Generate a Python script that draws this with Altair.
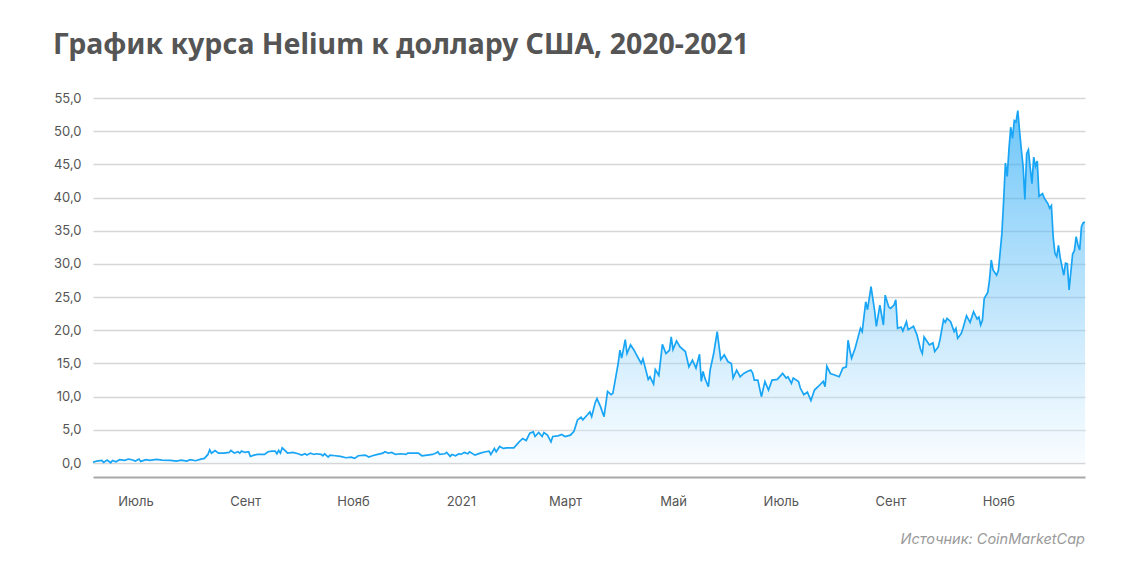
import altair as alt
import pandas as pd

TITLE = "График курса Helium к доллару США, 2020-2021"
SOURCE = "Источник: CoinMarketCap"
MONTHS = ["Янв", "Фев", "Март", "Апр", "Май", "Июнь", "Июль", "Авг", "Сент", "Окт", "Нояб", "Дек"]

dates = [
    "2020-06-07", "2020-06-09", "2020-06-12", "2020-06-13", "2020-06-15", "2020-06-17", "2020-06-18",
    "2020-06-20", "2020-06-22", "2020-06-25", "2020-06-27", "2020-06-29",
    "2020-07-01", "2020-07-03", "2020-07-04", "2020-07-07", "2020-07-09", "2020-07-13", "2020-07-16",
    "2020-07-21", "2020-07-24", "2020-07-27", "2020-07-30",
    "2020-08-01", "2020-08-04", "2020-08-07", "2020-08-09", "2020-08-11", "2020-08-12", "2020-08-13",
    "2020-08-15", "2020-08-17", "2020-08-20", "2020-08-23", "2020-08-24", "2020-08-26", "2020-08-28",
    "2020-08-29", "2020-08-30",
    "2020-09-01", "2020-09-03", "2020-09-04", "2020-09-06", "2020-09-08", "2020-09-12", "2020-09-14",
    "2020-09-16", "2020-09-18", "2020-09-19", "2020-09-20", "2020-09-21", "2020-09-22", "2020-09-24",
    "2020-09-25", "2020-09-28",
    "2020-10-01", "2020-10-03", "2020-10-05", "2020-10-06", "2020-10-08", "2020-10-10", "2020-10-11",
    "2020-10-14", "2020-10-15", "2020-10-16", "2020-10-18", "2020-10-19", "2020-10-22", "2020-10-25",
    "2020-10-28", "2020-10-31",
    "2020-11-02", "2020-11-04", "2020-11-08", "2020-11-10", "2020-11-12", "2020-11-15", "2020-11-18",
    "2020-11-19", "2020-11-21", "2020-11-23", "2020-11-25", "2020-11-28",
    "2020-12-01", "2020-12-02", "2020-12-05", "2020-12-08", "2020-12-10", "2020-12-13", "2020-12-16",
    "2020-12-18", "2020-12-19", "2020-12-20", "2020-12-23", "2020-12-24", "2020-12-26", "2020-12-27",
    "2020-12-29", "2020-12-31",
    "2021-01-01", "2021-01-03", "2021-01-05", "2021-01-06", "2021-01-09", "2021-01-12", "2021-01-15",
    "2021-01-17", "2021-01-18", "2021-01-20", "2021-01-21", "2021-01-23", "2021-01-25", "2021-01-27",
    "2021-01-31",
    "2021-02-03", "2021-02-05", "2021-02-07", "2021-02-09", "2021-02-11", "2021-02-12", "2021-02-14",
    "2021-02-16", "2021-02-17", "2021-02-19", "2021-02-21", "2021-02-22", "2021-02-25", "2021-02-27",
    "2021-03-01", "2021-03-04", "2021-03-06", "2021-03-08", "2021-03-10", "2021-03-11", "2021-03-14",
    "2021-03-15", "2021-03-16", "2021-03-18", "2021-03-19", "2021-03-21", "2021-03-23", "2021-03-25",
    "2021-03-27", "2021-03-28", "2021-03-30", "2021-03-31",
    "2021-04-01", "2021-04-02", "2021-04-04", "2021-04-05", "2021-04-07", "2021-04-09", "2021-04-10",
    "2021-04-13", "2021-04-14", "2021-04-17", "2021-04-18", "2021-04-20", "2021-04-21", "2021-04-23",
    "2021-04-25", "2021-04-27", "2021-04-29", "2021-04-30",
    "2021-05-01", "2021-05-03", "2021-05-05", "2021-05-08", "2021-05-10", "2021-05-12", "2021-05-14",
    "2021-05-16", "2021-05-17", "2021-05-18", "2021-05-19", "2021-05-21", "2021-05-22", "2021-05-24",
    "2021-05-26", "2021-05-28", "2021-05-30",
    "2021-06-01", "2021-06-03", "2021-06-04", "2021-06-06", "2021-06-08", "2021-06-10", "2021-06-12",
    "2021-06-14", "2021-06-15", "2021-06-16", "2021-06-18", "2021-06-20", "2021-06-22", "2021-06-24",
    "2021-06-26", "2021-06-29",
    "2021-07-02", "2021-07-04", "2021-07-05", "2021-07-07", "2021-07-08", "2021-07-11", "2021-07-12",
    "2021-07-14", "2021-07-16", "2021-07-18", "2021-07-20", "2021-07-22", "2021-07-25", "2021-07-26",
    "2021-07-27", "2021-07-29", "2021-07-31",
    "2021-08-03", "2021-08-05", "2021-08-07", "2021-08-08", "2021-08-09", "2021-08-10", "2021-08-12",
    "2021-08-13", "2021-08-15", "2021-08-16", "2021-08-18", "2021-08-19", "2021-08-21", "2021-08-23",
    "2021-08-24", "2021-08-26", "2021-08-28", "2021-08-29", "2021-08-31",
    "2021-09-01", "2021-09-03", "2021-09-04", "2021-09-05", "2021-09-07", "2021-09-08", "2021-09-10",
    "2021-09-11", "2021-09-14", "2021-09-16", "2021-09-18", "2021-09-19", "2021-09-20", "2021-09-23",
    "2021-09-25", "2021-09-26", "2021-09-28", "2021-09-29",
    "2021-10-01", "2021-10-02", "2021-10-03", "2021-10-05", "2021-10-07", "2021-10-08", "2021-10-09",
    "2021-10-11", "2021-10-12", "2021-10-14", "2021-10-16", "2021-10-18", "2021-10-20", "2021-10-21",
    "2021-10-22", "2021-10-23", "2021-10-24", "2021-10-26", "2021-10-27", "2021-10-28", "2021-10-29",
    "2021-10-31",
    "2021-11-01", "2021-11-02", "2021-11-03", "2021-11-04", "2021-11-05", "2021-11-06", "2021-11-07",
    "2021-11-08", "2021-11-09", "2021-11-10", "2021-11-11", "2021-11-12", "2021-11-13", "2021-11-14",
    "2021-11-15", "2021-11-16", "2021-11-17", "2021-11-18", "2021-11-19", "2021-11-20", "2021-11-21",
    "2021-11-22", "2021-11-23", "2021-11-24", "2021-11-26", "2021-11-27", "2021-11-29", "2021-11-30",
    "2021-12-01", "2021-12-02", "2021-12-03", "2021-12-04", "2021-12-05", "2021-12-06", "2021-12-08",
    "2021-12-09", "2021-12-10", "2021-12-11", "2021-12-13", "2021-12-14", "2021-12-15", "2021-12-16",
    "2021-12-17", "2021-12-18", "2021-12-19", "2021-12-20",
]

prices = [
    0.1, 0.3, 0.4, 0.1, 0.45, 0.05, 0.4,
    0.2, 0.5, 0.4, 0.6, 0.5,
    0.3, 0.6, 0.25, 0.5, 0.4, 0.55, 0.45,
    0.4, 0.3, 0.45, 0.3,
    0.5, 0.35, 0.6, 0.7, 1.3, 2.0, 1.5,
    1.9, 1.5, 1.5, 1.6, 1.9, 1.5, 1.7,
    1.5, 1.8,
    1.6, 1.7, 1.0, 1.2, 1.3, 1.3, 1.7,
    1.8, 1.8, 1.4, 1.9, 1.5, 2.3, 1.8,
    1.5, 1.6,
    1.4, 1.2, 1.4, 1.2, 1.5, 1.3, 1.4,
    1.3, 1.1, 1.4, 0.9, 1.2, 1.1, 1.0,
    0.8, 0.9,
    0.7, 1.1, 1.2, 0.9, 1.1, 1.3, 1.5,
    1.7, 1.5, 1.6, 1.3, 1.4,
    1.3, 1.5, 1.5, 1.5, 1.1, 1.2, 1.3,
    1.5, 1.7, 1.3, 1.4, 1.6, 1.0, 1.3,
    1.1, 1.4,
    1.3, 1.6, 1.4, 1.7, 1.2, 1.5, 1.7,
    1.8, 1.3, 2.2, 1.7, 2.5, 2.2, 2.3,
    2.3,
    3.2, 3.7, 3.4, 4.5, 4.7, 4.0, 4.6,
    4.0, 4.6, 4.2, 3.2, 4.0, 4.1, 4.3,
    4.0, 4.2, 4.8, 6.5, 6.9, 6.5, 7.4,
    7.7, 7.0, 9.1, 9.7, 8.5, 7.0, 10.8,
    10.3, 10.5, 13.5, 15.0,
    17.0, 15.8, 18.6, 16.5, 17.8, 17.0, 16.5,
    15.0, 15.7, 12.6, 13.0, 11.9, 14.1, 13.2,
    17.9, 16.5, 17.0, 19.0,
    17.1, 18.4, 17.5, 16.8, 14.5, 15.5, 14.3,
    16.4, 12.3, 13.8, 12.8, 11.5, 14.0, 16.5,
    19.8, 15.6, 16.3,
    15.3, 15.0, 12.8, 14.0, 13.0, 13.5, 13.8,
    14.0, 13.6, 12.5, 12.5, 10.0, 12.3, 11.0,
    12.5, 12.6,
    13.5, 12.8, 13.0, 12.0, 12.8, 12.3, 11.3,
    10.3, 10.7, 9.4, 11.0, 11.5, 12.3, 11.5,
    14.6, 13.5, 13.3,
    13.0, 14.3, 14.5, 18.5, 17.0, 15.8, 17.3,
    18.3, 20.3, 19.8, 24.3, 23.1, 26.6, 23.0,
    20.6, 23.8, 20.8, 25.3, 23.5,
    23.3, 23.8, 24.6, 20.3, 20.5, 19.9, 21.3,
    20.1, 20.6, 19.3, 17.1, 16.5, 19.0, 17.8,
    18.1, 16.8, 17.5, 18.6,
    21.6, 21.2, 21.8, 21.3, 19.8, 20.3, 18.8,
    19.5, 20.3, 22.2, 21.2, 22.8, 21.7, 22.0,
    20.8, 21.5, 24.8, 25.7, 27.6, 30.6, 29.1,
    28.3,
    29.0, 31.7, 34.6, 39.6, 45.2, 43.2, 47.3,
    50.6, 48.9, 51.6, 51.4, 53.1, 50.0, 47.2,
    44.7, 39.7, 46.6, 47.2, 44.5, 42.1, 46.1,
    44.7, 45.5, 40.2, 40.6, 39.9, 39.1, 38.4,
    38.8, 34.1, 31.6, 31.1, 32.8, 30.9, 28.3,
    30.1, 30.0, 26.1, 31.5, 32.0, 34.1, 32.9,
    32.1, 35.6, 36.2, 36.3,
]

y_ticks = [0, 5, 10, 15, 20, 25, 30, 35, 40, 45, 50, 55]
x_ticks = [(2020, 7), (2020, 9), (2020, 11), (2021, 1), (2021, 3), (2021, 5),
           (2021, 7), (2021, 9), (2021, 11)]

df = pd.DataFrame({"date": dates, "price": prices})

FONT = "Inter"
LABEL_COLOR = "#555555"

month_arr = "[" + ",".join("'" + m + "'" for m in MONTHS) + "]"
x_label_expr = ("utcmonth(datum.value) == 0 ? utcFormat(datum.value, '%Y') : "
                + month_arr + "[utcmonth(datum.value)]")

x_enc = alt.X(
    "date:T",
    scale=alt.Scale(
        type="utc",
        domain=[alt.DateTime(year=2020, month=6, date=7, utc=True),
                alt.DateTime(year=2021, month=12, date=20, utc=True)],
    ),
    axis=alt.Axis(
        values=[alt.DateTime(year=y, month=m, date=1, utc=True) for y, m in x_ticks],
        labelExpr=x_label_expr,
        title=None,
        grid=False,
        ticks=False,
        domainColor="#a8a8a8",
        domainWidth=2,
        labelPadding=18,
        labelFontSize=13,
        labelColor=LABEL_COLOR,
        labelFont=FONT,
    ),
)

y_enc = alt.Y(
    "price:Q",
    scale=alt.Scale(domain=[-2.1, 55], nice=False, zero=False),
    axis=alt.Axis(
        values=y_ticks,
        labelExpr="replace(format(datum.value, '.1f'), '.', ',')",
        title=None,
        domain=False,
        ticks=False,
        gridColor="#d6d6d6",
        gridWidth=1.5,
        labelPadding=12,
        labelFontSize=13,
        labelColor=LABEL_COLOR,
        labelFont=FONT,
    ),
)

area = alt.Chart(df).mark_area(
    line={"color": "#18a5f5", "strokeWidth": 1.7},
    color=alt.Gradient(
        gradient="linear",
        stops=[
            alt.GradientStop(color="rgba(34,168,246,0.95)", offset=0),
            alt.GradientStop(color="rgba(115,198,248,0.65)", offset=0.55),
            alt.GradientStop(color="rgba(235,247,255,0.5)", offset=1),
        ],
        x1=1, x2=1, y1=0, y2=1,
    ),
).encode(x=x_enc, y=y_enc, y2=alt.datum(0))

title = alt.Chart(pd.DataFrame({"t": [TITLE]})).mark_text(
    align="left", baseline="alphabetic", font="Noto Sans", fontWeight="bold",
    fontSize=28.5, color="#555555",
).encode(text="t:N", x=alt.value(-40), y=alt.value(-44))

source = alt.Chart(pd.DataFrame({"t": [SOURCE]})).mark_text(
    align="right", baseline="alphabetic", font=FONT, fontStyle="italic",
    fontSize=14.5, color="#9a9a9a",
).encode(text="t:N", x=alt.value(992), y=alt.value(446))

chart = alt.layer(area, title, source).properties(
    width=992,
    height=379,
    autosize=alt.AutoSizeParams(type="none"),
    padding={"left": 85, "top": 90, "right": 40, "bottom": 90},
    background="white",
).configure_view(stroke=None)

chart.save("out.html", embed_options={"renderer": "svg", "actions": False})
